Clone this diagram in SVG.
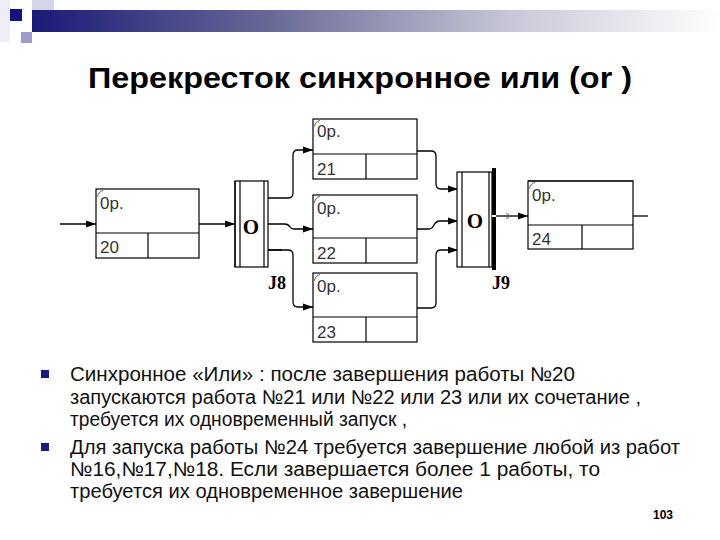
<svg xmlns="http://www.w3.org/2000/svg" width="720" height="540" viewBox="0 0 720 540">
<defs>
  <linearGradient id="bar" x1="0" y1="0" x2="1" y2="0">
    <stop offset="0" stop-color="#1a1a78"/>
    <stop offset="0.35" stop-color="#6a6a98"/>
    <stop offset="0.7" stop-color="#c8c8d8"/>
    <stop offset="1" stop-color="#ffffff"/>
  </linearGradient>
  <marker id="arr" markerUnits="userSpaceOnUse" markerWidth="11" markerHeight="8" refX="10" refY="4" orient="auto">
    <path d="M0,0.5 L10,4 L0,7.5 z" fill="#000"/>
  </marker>
  <style>
    .box{fill:#fff;stroke:#000;stroke-width:1.2}
    .ln{fill:none;stroke:#000;stroke-width:1.2}
    .con{fill:none;stroke:#000;stroke-width:1.3}
    .tick{fill:none;stroke:#666;stroke-width:1}
    .bt{font-family:"Liberation Sans Narrow","Liberation Sans",Arial,sans-serif;font-stretch:condensed;font-size:17px;fill:#333}
    .jo{font-family:"Liberation Serif","Times New Roman",serif;font-weight:bold;font-size:21px;fill:#000}
    .jl{font-family:"Liberation Serif","Times New Roman",serif;font-weight:bold;font-size:18px;fill:#000}
    .title{font-family:"Liberation Sans",Arial,sans-serif;font-weight:bold;font-size:30px;fill:#000}
    .txt{font-family:"Liberation Sans",Arial,sans-serif;font-size:20px;fill:#111}
    .bul{fill:#1a1a80}
  </style>
</defs>

<!-- header decoration -->
<rect x="0" y="0" width="10" height="42" fill="#eeeef6"/>
<rect x="32" y="0" width="22" height="22" fill="#d4d4ea"/>
<rect x="32" y="10" width="688" height="22" fill="url(#bar)"/>
<rect x="10" y="9" width="12" height="12" fill="#14147e"/>
<rect x="21" y="32" width="11" height="11" fill="#9c9cce"/>

<text class="title" x="88" y="88" textLength="544" lengthAdjust="spacingAndGlyphs">Перекресток синхронное или (or )</text>

<!-- connectors -->
<g id="connectors">
  <path class="con" d="M60,224 H96" marker-end="url(#arr)"/>
  <path class="con" d="M199,224 H235" marker-end="url(#arr)"/>
  <path class="con" d="M268,198 H288 Q293,198 293,193 V155 Q293,150 298,150 H313" marker-end="url(#arr)"/>
  <path class="con" d="M268,224 H285 Q288,224 290,227 Q291,229 294,229 H313" marker-end="url(#arr)"/>
  <path class="con" d="M268,250 H288 Q293,250 293,255 V302 Q293,307 298,307 H313" marker-end="url(#arr)"/>
  <path class="con" d="M268,250 H282" stroke-width="2.5"/>
  <path class="con" d="M417,151 H431 Q436,151 436,156 V184 Q436,189 441,189 H458" marker-end="url(#arr)"/>
  <path class="con" d="M417,229 H429 Q432,229 434,225 Q436,221 440,221 H458" marker-end="url(#arr)"/>
  <path class="con" d="M417,308 H431 Q436,308 436,303 V255 Q436,250 441,250 H458" marker-end="url(#arr)"/>
  <path class="con" d="M496,216 H528" marker-end="url(#arr)"/>
  <path class="tick" d="M506,213 L510,216 L506,219"/>
  <path class="con" d="M633,216 H648"/>
</g>

<!-- box 20 -->
<g id="box20">
  <rect class="box" x="96" y="189" width="103" height="69"/>
  <path class="ln" d="M96,233 H199 M148,233 V258"/>
  <path class="tick" d="M97,197 Q98,192 103,190"/>
  <text class="bt" x="100" y="209">0p.</text>
  <text class="bt" x="100" y="253">20</text>
</g>

<!-- J8 -->
<g id="J8">
  <rect class="box" x="235" y="181" width="33" height="86"/>
  <path class="ln" d="M235,181 V267" stroke-width="2.2"/>
  <path class="ln" d="M240,181 V267 M264,181 V267"/>
  <text class="jo" x="251" y="234" text-anchor="middle">O</text>
  <text class="jl" x="268" y="289">J8</text>
</g>

<!-- box 21 -->
<g id="box21">
  <rect class="box" x="313" y="119" width="104" height="60"/>
  <path class="ln" d="M313,154 H417 M366,154 V179"/>
  <path class="tick" d="M314,127 Q315,122 320,120"/>
  <text class="bt" x="317" y="137">0p.</text>
  <text class="bt" x="317" y="175">21</text>
</g>

<!-- box 22 -->
<g id="box22">
  <rect class="box" x="313" y="195" width="104" height="68"/>
  <path class="ln" d="M313,238 H417 M366,238 V263"/>
  <path class="tick" d="M314,203 Q315,198 320,196"/>
  <text class="bt" x="317" y="214">0p.</text>
  <text class="bt" x="317" y="259">22</text>
</g>

<!-- box 23 -->
<g id="box23">
  <rect class="box" x="313" y="273" width="104" height="69"/>
  <path class="ln" d="M313,317 H417 M366,317 V342"/>
  <path class="tick" d="M314,281 Q315,276 320,274"/>
  <text class="bt" x="317" y="292">0p.</text>
  <text class="bt" x="317" y="338">23</text>
</g>

<!-- J9 -->
<g id="J9">
  <rect class="box" x="457" y="172" width="35" height="95"/>
  <path class="ln" d="M462,172 V267 M489,172 V267"/>
  <rect x="492" y="168" width="4" height="102" fill="#000"/>
  <rect x="492" y="215" width="4" height="2" fill="#fff"/>
  <text class="jo" x="475" y="228" text-anchor="middle">O</text>
  <text class="jl" x="492" y="289">J9</text>
</g>

<!-- box 24 -->
<g id="box24">
  <rect class="box" x="528" y="181" width="105" height="68"/>
  <path class="ln" d="M528,181 H633" stroke-width="2.2"/>
  <path class="ln" d="M528,225 H633 M582,225 V249"/>
  <path class="tick" d="M529,189 Q530,184 535,182"/>
  <text class="bt" x="532" y="201">0p.</text>
  <text class="bt" x="532" y="245">24</text>
</g>

<!-- bullets -->
<rect class="bul" x="41" y="370" width="8" height="8"/>
<rect class="bul" x="41" y="443" width="8" height="8"/>
<text class="txt" x="70" y="381" textLength="505" lengthAdjust="spacingAndGlyphs">Синхронное «Или» : после завершения работы №20</text>
<text class="txt" x="70" y="404" textLength="571" lengthAdjust="spacingAndGlyphs">запускаются работа №21 или №22 или 23 или их сочетание ,</text>
<text class="txt" x="70" y="426" textLength="337" lengthAdjust="spacingAndGlyphs">требуется их одновременный запуск ,</text>
<text class="txt" x="70" y="454" textLength="610" lengthAdjust="spacingAndGlyphs">Для запуска работы №24 требуется завершение любой из работ</text>
<text class="txt" x="70" y="476" textLength="530" lengthAdjust="spacingAndGlyphs">№16,№17,№18. Если завершается более 1 работы, то</text>
<text class="txt" x="70" y="498" textLength="393" lengthAdjust="spacingAndGlyphs">требуется их одновременное завершение</text>

<text x="663" y="519" text-anchor="middle" font-family="Liberation Sans, Arial, sans-serif" font-weight="bold" font-size="12" fill="#000">103</text>
</svg>
